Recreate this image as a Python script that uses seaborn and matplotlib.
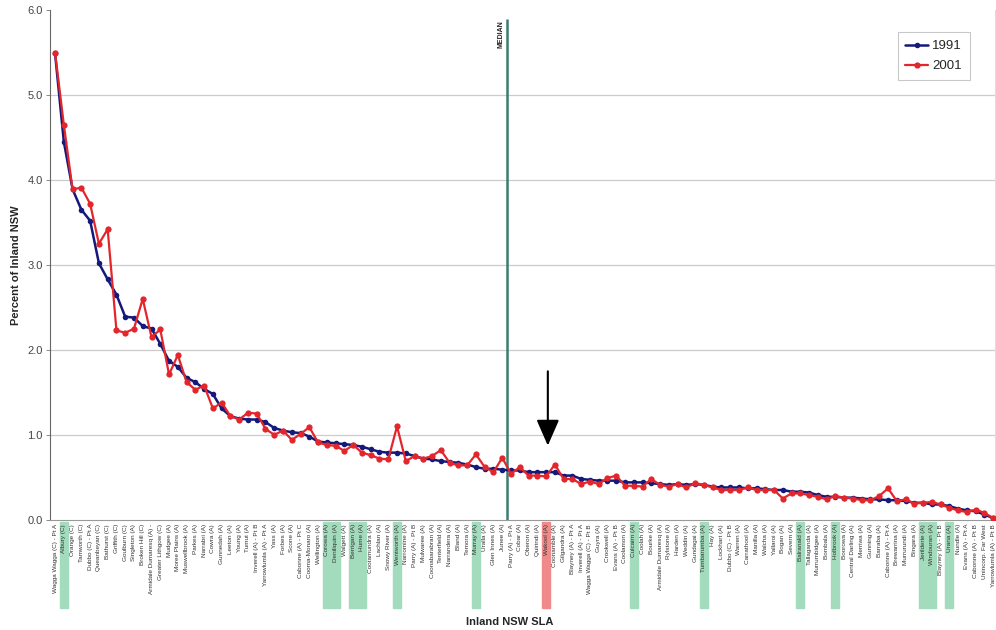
import matplotlib
matplotlib.use("Agg")
import matplotlib.pyplot as plt
import numpy as np
import pandas as pd
import seaborn as sns
from matplotlib.patches import Rectangle

# SLA names in chart order (highest 1991 share first)
slas = [
    "Wagga Wagga (C) - Pt A", "Albury (C)", "Orange (C)", "Tamworth (C)", "Dubbo (C) - Pt A",
    "Queanbeyan (C)", "Bathurst (C)", "Griffith (C)", "Goulburn (C)", "Singleton (A)",
    "Broken Hill (C)", "Armidale Dumaresq (A) -", "Greater Lithgow (C)", "Mudgee (A)", "Moree Plains (A)",
    "Muswellbrook (A)", "Parkes (A)", "Narrabri (A)", "Cowra (A)", "Gunnedah (A)",
    "Leeton (A)", "Young (A)", "Tumut (A)", "Inverell (A) - Pt B", "Yarrowlumla (A) - Pt A",
    "Yass (A)", "Forbes (A)", "Scone (A)", "Cabonne (A) - Pt C", "Cooma-Monaro (A)",
    "Wellington (A)", "Corowa (A)", "Deniliquin (A)", "Walgett (A)", "Berrigan (A)",
    "Hume (A)", "Cootamundra (A)", "Lachlan (A)", "Snowy River (A)", "Wentworth (A)",
    "Narromine (A)", "Parry (A) - Pt B", "Mulwaree (A)", "Coonabarabran (A)", "Tenterfield (A)",
    "Narrandera (A)", "Bland (A)", "Temora (A)", "Murray (A)", "Uralla (A)",
    "Glen Innes (A)", "Junee (A)", "Parry (A) - Pt A", "Cobar (A)", "Oberon (A)",
    "Quirindi (A)", "Wakool (A)", "Coonamble (A)", "Gilgandra (A)", "Blayney (A) - Pt A",
    "Inverell (A) - Pt A", "Wagga Wagga (C) - Pt B", "Guyra (A)", "Crookwell (A)", "Evans (A) - Pt B",
    "Coolamon (A)", "Culcairn (A)", "Coolah (A)", "Bourke (A)", "Armidale Dumaresq (A)",
    "Rylstone (A)", "Harden (A)", "Weddin (A)", "Gundagai (A)", "Tumbarumba (A)",
    "Hay (A)", "Lockhart (A)", "Dubbo (C) - Pt B", "Warren (A)", "Carrathool (A)",
    "Manilla (A)", "Walcha (A)", "Yallaroi (A)", "Bogan (A)", "Severn (A)",
    "Balranald (A)", "Tallaganda (A)", "Murrumbidgee (A)", "Bombala (A)", "Holbrook (A)",
    "Boorowa (A)", "Central Darling (A)", "Merriwa (A)", "Gunning (A)", "Barraba (A)",
    "Cabonne (A) - Pt A", "Brewarrina (A)", "Murrurundi (A)", "Bingara (A)", "Jerilderie (A)",
    "Windouran (A)", "Blayney (A) - Pt B", "Urana (A)", "Nundle (A)", "Evans (A) - Pt A",
    "Cabonne (A) - Pt B", "Unincorp. Far West", "Yarrowlumla (A) - Pt B",
]

pct_1991 = [
    5.49, 4.45, 3.89, 3.65, 3.52, 3.02, 2.83, 2.65, 2.39, 2.38,
    2.28, 2.25, 2.07, 1.87, 1.80, 1.67, 1.62, 1.54, 1.48, 1.31,
    1.22, 1.19, 1.18, 1.18, 1.15, 1.08, 1.05, 1.03, 1.02, 0.98,
    0.92, 0.91, 0.90, 0.89, 0.88, 0.86, 0.83, 0.80, 0.79, 0.79,
    0.78, 0.75, 0.72, 0.71, 0.69, 0.68, 0.67, 0.65, 0.62, 0.60,
    0.60, 0.59, 0.58, 0.58, 0.56, 0.56, 0.56, 0.56, 0.52, 0.52,
    0.48, 0.47, 0.46, 0.46, 0.46, 0.44, 0.44, 0.44, 0.43, 0.42,
    0.41, 0.42, 0.41, 0.42, 0.41, 0.39, 0.38, 0.38, 0.38, 0.37,
    0.37, 0.36, 0.35, 0.35, 0.33, 0.33, 0.32, 0.29, 0.27, 0.27,
    0.26, 0.26, 0.25, 0.24, 0.24, 0.23, 0.23, 0.22, 0.20, 0.20,
    0.18, 0.18, 0.16, 0.13, 0.11, 0.10, 0.06, 0.02,
]

pct_2001 = [
    5.50, 4.65, 3.89, 3.91, 3.72, 3.25, 3.42, 2.23, 2.20, 2.25,
    2.60, 2.15, 2.24, 1.71, 1.94, 1.62, 1.53, 1.58, 1.31, 1.38,
    1.22, 1.18, 1.26, 1.25, 1.07, 1.00, 1.05, 0.94, 1.01, 1.09,
    0.91, 0.88, 0.87, 0.81, 0.88, 0.79, 0.76, 0.72, 0.71, 1.10,
    0.69, 0.75, 0.72, 0.75, 0.82, 0.67, 0.64, 0.64, 0.77, 0.62,
    0.56, 0.73, 0.54, 0.62, 0.52, 0.52, 0.51, 0.65, 0.48, 0.48,
    0.42, 0.45, 0.42, 0.49, 0.52, 0.40, 0.40, 0.39, 0.48, 0.41,
    0.39, 0.42, 0.38, 0.43, 0.41, 0.38, 0.35, 0.35, 0.35, 0.38,
    0.35, 0.35, 0.35, 0.25, 0.31, 0.31, 0.29, 0.27, 0.24, 0.28,
    0.26, 0.25, 0.23, 0.23, 0.28, 0.37, 0.22, 0.24, 0.19, 0.20,
    0.21, 0.18, 0.14, 0.11, 0.09, 0.12, 0.08, 0.02,
]

# highlighted SLAs (green = Murray region, red = area of interest)
green_slas = ["Albury (C)", "Corowa (A)", "Deniliquin (A)", "Berrigan (A)", "Hume (A)",
              "Wentworth (A)", "Murray (A)", "Culcairn (A)", "Tumbarumba (A)", "Balranald (A)",
              "Holbrook (A)", "Jerilderie (A)", "Windouran (A)", "Urana (A)"]
red_slas = ["Wakool (A)"]
median_pos = 51.5

df = pd.DataFrame({"idx": np.arange(len(slas)), "sla": slas,
                   "1991": pct_1991, "2001": pct_2001})

sns.set_style("white")
plt.rcParams["font.family"] = ["Liberation Sans", "DejaVu Sans"]

fig = plt.figure(figsize=(9.96, 6.3), dpi=100)
ax = fig.add_axes([0.050, 0.175, 0.949, 0.809])

# grid
for v in range(1, 6):
    ax.axhline(v, color="#cccccc", lw=0.9, zorder=0)

sns.lineplot(data=df, x="idx", y="1991", ax=ax, color="#14197a", lw=1.8,
             marker="o", markersize=4, markeredgewidth=0, label="1991", zorder=3)
sns.lineplot(data=df, x="idx", y="2001", ax=ax, color="#e3262b", lw=1.6,
             marker="o", markersize=4.5, markeredgewidth=0, label="2001", zorder=4)

# median line
ax.vlines(median_pos, 0, 5.9, color="#3a7d72", lw=1.8, zorder=2)
ax.text(median_pos - 0.25, 5.88, "MEDIAN", rotation=90, ha="right", va="top",
        fontsize=5, fontweight="bold", color="#222222")

# arrow pointing at the red SLA
for name in red_slas:
    i = slas.index(name)
    ax.annotate("", xy=(i + 0.2, 0.84), xytext=(i + 0.2, 1.78),
                arrowprops=dict(arrowstyle="-|>,head_length=1.6,head_width=0.7",
                                color="black", lw=1.5))

# highlight boxes behind the tick labels
tr = ax.get_xaxis_transform()
for name in green_slas:
    i = slas.index(name)
    ax.add_patch(Rectangle((i - 0.45, -0.173), 0.9, 0.169, transform=tr,
                           color="#a3dbbd", clip_on=False, zorder=0))
for name in red_slas:
    i = slas.index(name)
    ax.add_patch(Rectangle((i - 0.45, -0.173), 0.9, 0.169, transform=tr,
                           color="#f08a8a", clip_on=False, zorder=0))

ax.set_xlim(-0.6, len(slas) - 0.8)
ax.set_ylim(0, 6)
ax.set_xticks(df["idx"])
ax.set_xticklabels(slas, rotation=90, fontsize=4.6, color="#333333")
ax.set_yticks(np.arange(0, 6.1, 1.0))
ax.set_yticklabels([f"{v:.1f}" for v in np.arange(0, 6.1, 1.0)], fontsize=8, color="#444444")
ax.tick_params(axis="x", length=2, width=0.6, color="#999999", pad=1)
ax.tick_params(axis="y", length=3, width=0.6, color="#777777", pad=2, left=True)

ax.set_xlabel("Inland NSW SLA", fontsize=8, fontweight="bold")
ax.xaxis.set_label_coords(0.487, -0.19)
ax.set_ylabel("Percent of Inland NSW", fontsize=8, fontweight="bold", labelpad=5)

ax.spines["top"].set_visible(False)
ax.spines["left"].set_color("#666666")
ax.spines["bottom"].set_color("#999999")
ax.spines["right"].set_color("#dddddd")

leg = ax.legend(loc="upper right", bbox_to_anchor=(0.98, 0.97), fontsize=9.5,
                frameon=True, fancybox=False, handlelength=1.7, borderpad=0.6,
                labelspacing=0.6, handletextpad=0.3)
leg.get_frame().set_edgecolor("#bbbbbb")
leg.get_frame().set_linewidth(0.8)

fig.savefig("out.png", dpi=100)
